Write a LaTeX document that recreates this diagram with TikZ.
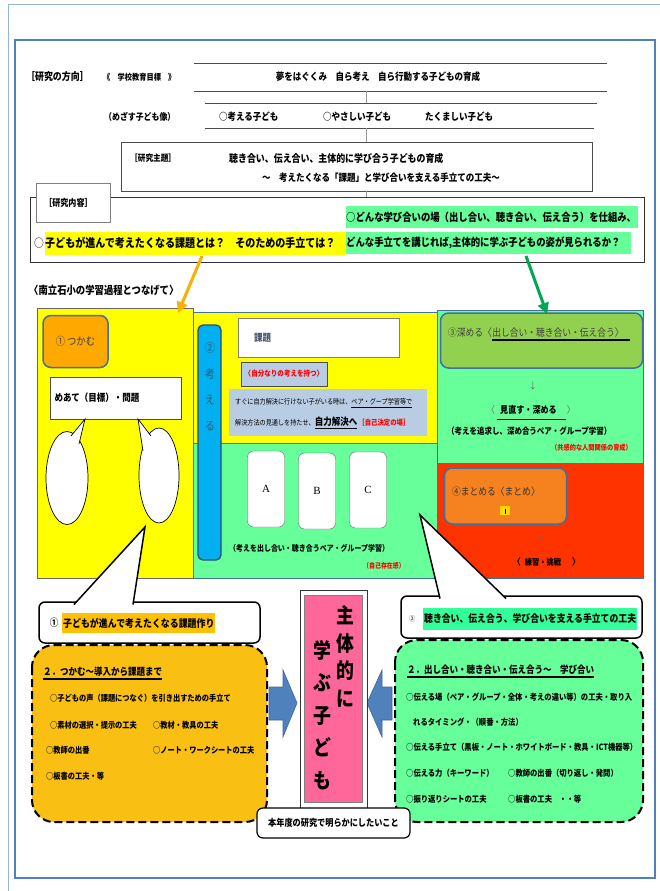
\documentclass[tikz,border=0pt]{standalone}
\usepackage{fontspec}
\setmainfont{Noto Sans CJK JP}[FakeStretch=0.85]
\newfontfamily\abcfont{Liberation Serif}
\usepackage{xcolor}
\usepackage{tikz}
\usetikzlibrary{calc,arrows.meta}

\definecolor{kiiro}{HTML}{FFFF00}
\definecolor{midori}{HTML}{66FF99}
\definecolor{hlmidori}{HTML}{33FF99}
\definecolor{koimidori}{HTML}{92D050}
\definecolor{aka}{HTML}{FF3300}
\definecolor{daidai}{HTML}{FFA800}
\definecolor{hldaidai}{HTML}{FFC000}
\definecolor{matomeiro}{HTML}{F5821F}
\definecolor{mizu}{HTML}{00B0F0}
\definecolor{haiao}{HTML}{B8CCE4}
\definecolor{yamabuki}{HTML}{F9C013}
\definecolor{momo}{HTML}{FF6699}
\definecolor{yajiao}{HTML}{4F81BD}
\definecolor{wakuao}{HTML}{41719C}
\definecolor{kimidori}{HTML}{00A651}
\definecolor{yamabukiya}{HTML}{F9B000}
\definecolor{akamoji}{HTML}{FF0000}
\definecolor{kadaiiro}{HTML}{44546A}

\newcommand{\jsz}[1]{\fontsize{#1}{#1}\selectfont}

\tikzset{
  moji/.style={inner sep=0pt,anchor=west},
  waku/.style={draw=wakuao,line width=1pt},
  maru/.style={draw=wakuao,line width=1.5pt,rounded corners=8pt},
  kakou/.style={draw=black,fill=white,line width=1.5pt,rounded corners=6pt},
  tenwaku/.style={draw=black,line width=2pt,dash pattern=on 8pt off 4pt,rounded corners=22pt},
  yaji/.style={line width=3pt,-{Triangle[width=11pt,length=11pt]}},
  abcbox/.style={draw=black!60,fill=white,rounded corners=6pt,minimum width=37pt,minimum height=76pt,font=\abcfont\jsz{11}},
  aoyaji/.style={fill=yajiao,draw=yajiao!80!black,line width=0.6pt}
}

\begin{document}
\begin{tikzpicture}[x=1pt,y=-1pt]
\useasboundingbox (0,0) rectangle (660,891);
\fill[white] (0,0) rectangle (660,891);

% frames
\draw[line width=1pt,draw=yajiao!60] (8,891) -- (8,5) -- (660,5);
\draw[line width=1.5pt,draw=yajiao] (15,40) rectangle (655,878);

% research direction
\node[moji,font=\bfseries\jsz{10.5}] (houkou) at (26,77) {［研究の方向］};
\node[moji,font=\bfseries\jsz{8.5}] (mokuhyou) at (103,77) {《　学校教育目標　》};
\draw[black!70] (194,63) -- (607,63);
\draw[black!70] (194,91) -- (607,91);
\node[font=\bfseries\jsz{10}] (yume) at (378,77) {夢をはぐくみ　自ら考え　自ら行動する子どもの育成};
\draw[black!40] (366,91) -- (366,103);
\draw[black!70] (205,103) -- (597,103);
\draw[black!70] (205,128) -- (594,128);
\node[moji,font=\bfseries\jsz{9.3}] (mezasu) at (104,117) {（めざす子ども像）};
\node[moji,font=\bfseries\jsz{10}] (ko1) at (219,117) {○考える子ども};
\node[moji,font=\bfseries\jsz{10}] (ko2) at (323,117) {○やさしい子ども};
\node[moji,font=\bfseries\jsz{10}] (ko3) at (425,117) {たくましい子ども};
\draw[black!40] (366,128) -- (366,142);

% research theme
\draw[black!70,line width=0.8pt] (121,142) rectangle (592,191);
\node[moji,font=\bfseries\jsz{9}] (shudai) at (130,158) {［研究主題］};
\node[moji,font=\bfseries\jsz{10.5}] (shudai1) at (229,158) {聴き合い、伝え合い、主体的に学び合う子どもの育成};
\node[moji,font=\bfseries\jsz{10}] (shudai2) at (262,178) {～　考えたくなる「課題」と学び合いを支える手立ての工夫～};
\draw[black!40] (366,191) -- (366,197);

% research content
\draw[black!80,line width=1pt] (30,197) rectangle (644,262);
\draw[draw=black!50,fill=white,line width=1pt] (36,183) rectangle (110,222);
\node[moji,font=\bfseries\jsz{9.5}] (naiyou) at (44,203) {［研究内容］};
\node[moji,font=\jsz{11.5}] (maru1) at (34,243) {○};
\node[anchor=west,fill=kiiro,inner sep=0pt,minimum height=23pt,text width=301pt,align=left,font=\bfseries\jsz{11.8}] (toi1) at (45,243) {子どもが進んで考えたくなる課題とは？　そのための手立ては？};
\node[anchor=west,fill=midori,inner sep=0pt,minimum height=22pt,text width=292pt,align=left,font=\bfseries\jsz{11}] (toi2) at (346,217) {○どんな学び合いの場（出し合い、聴き合い、伝え合う）を仕組み、};
\node[anchor=west,fill=midori,inner sep=0pt,minimum height=22pt,text width=285pt,align=left,font=\bfseries\jsz{11}] (toi3) at (346,243) {どんな手立てを講じれば,主体的に学ぶ子どもの姿が見られるか？};

\node[moji,font=\bfseries\jsz{11}] (tsunage) at (29,290) {〈南立石小の学習過程とつなげて〉};

% process panels
\draw[waku,draw=black!60,fill=kiiro] (37,308) rectangle (193,578);
\draw[waku,fill=kiiro] (193,312) rectangle (437,443);
\draw[waku,fill=midori] (193,443) rectangle (437,578);
\draw[waku,fill=midori] (437,310) rectangle (643,463);
\draw[waku,fill=aka] (437,463) rectangle (643,578);

\coordinate (oS) at (202,256);
\coordinate (oE) at (178,313);
\coordinate (gS) at (526,256);
\coordinate (gE) at (547,314);
\draw[yaji,draw=yamabukiya,fill=yamabukiya] (oS) -- (oE);
\draw[yaji,draw=kimidori,fill=kimidori] (gS) -- (gE);

% (1) tsukamu
\node[maru,fill=daidai,minimum width=65pt,minimum height=52pt,font=\jsz{11},text=black!75] (tsukamu) at (75.5,341.5) {①\,つかむ};
\node[draw=black!70,fill=white,minimum width=131pt,minimum height=42pt,text width=123pt,align=left,font=\bfseries\jsz{10}] (meate) at (116,398) {めあて（目標）・問題};
\draw[fill=white,line width=0.7pt] (67,478) ellipse [x radius=21pt,y radius=46.5pt];
\filldraw[fill=white,line width=0.7pt] (71,436) -- (85,419) -- (79,444);
\draw[fill=white,line width=0.7pt] (159,475.5) ellipse [x radius=20pt,y radius=47.5pt];
\filldraw[fill=white,line width=0.7pt] (151,436) -- (138,419) -- (143,451);

% (2) kangaeru
\draw[rounded corners=5pt,fill=mizu,draw=wakuao!70!black,line width=1.3pt] (198,325) rectangle (221,560);
\node[align=center,font=\fontsize{12}{26}\selectfont,text=kadaiiro] (kangaeru) at (210,387) {②\\考\\え\\る};
\node[draw=black!50,fill=white,minimum width=161pt,minimum height=39pt] (kadai) at (318.5,337.5) {};
\node[moji,font=\bfseries\jsz{10},text=kadaiiro] (kadaimoji) at (254,338) {課題};
\node[draw=black!70,fill=haiao,line width=0.8pt,minimum width=86pt,minimum height=24pt,inner sep=0pt,font=\bfseries\jsz{7.7},text=akamoji] (jibun) at (284,374) {〈自分なりの考えを持つ〉};
\node[fill=haiao,minimum width=198pt,minimum height=47pt] (sugu) at (328,412.5) {};
\node[moji,font=\jsz{7.2}] (sugu1) at (235,403) {すぐに自力解決に行けない子がいる時は、\underline{ペア・グープ学習等で}};
\node[moji,font=\jsz{7.2}] (sugu2) at (235,423) {解決方法の見通しを持たせ、{\bfseries\jsz{10}\underline{自力解決へ}}\,{\bfseries\jsz{7.5}\color{akamoji}［自己決定の場］}};

\node[abcbox] (A) at (266,489) {A};
\node[abcbox] (B) at (317,491) {B};
\node[abcbox] (C) at (368,490) {C};
\node[moji,font=\bfseries\jsz{8.2}] (pea1) at (229,548) {（考えを出し合い・聴き合うペア・グループ学習）};
\node[font=\bfseries\jsz{7},text=akamoji] (sonzai) at (384,566) {（自己存在感）};

% (3) fukameru
\node[maru,fill=koimidori,minimum width=202pt,minimum height=55pt] (fukameru) at (541.5,340.5) {};
\node[moji,font=\jsz{10.3},text=black!75] (fuka1) at (448,333) {③深める〈};
\node[inner sep=0pt,anchor=base west,font=\jsz{10.3},text=black!75] (fuka2) at (fuka1.base east) {出し合い・聴き合い・伝え合う〉};
\draw[line width=1.2pt] ([yshift=-2pt]fuka2.south west) -- ([yshift=-2pt,xshift=6pt]fuka2.south east);
\node[font=\jsz{9},text=black!60] (ya1) at (533,386) {↓};
\node[font=\jsz{9.5},text=black!60] (kak1) at (491,410) {〈};
\node[font=\bfseries\jsz{9.5}] (minaoshi) at (528.5,410) {見直す・深める};
\node[font=\jsz{9.5},text=black!60] (kak2) at (571,410) {〉};
\draw[line width=1.2pt] ([yshift=-1.5pt]minaoshi.south west) -- ([yshift=-1.5pt,xshift=6pt]minaoshi.south east);
\node[moji,font=\bfseries\jsz{8.8}] (pea2) at (447,431) {（考えを追求し、深め合うペア・グループ学習）};
\node[moji,font=\bfseries\jsz{7.3},text=akamoji] (kyoukan) at (551,448) {（共感的な人間関係の育成）};

% (4) matomeru
\node[maru,fill=matomeiro,minimum width=122pt,minimum height=56pt] (matome) at (505.5,496) {};
\node[moji,font=\jsz{10.3},text=black!80] (matome1) at (452,492) {④まとめる〈まとめ〉};
\fill[kiiro!70!orange] (500,506) rectangle (510,515);
\draw[very thin] (505,509) -- (505,514);
\node[font=\jsz{9},text=black!60] (ya2) at (542,537) {↓};
\node[font=\bfseries\jsz{9.5}] (kak3) at (517,562) {〈};
\node[font=\bfseries\jsz{8.5}] (renshu) at (543,562) {練習・挑戦};
\node[font=\bfseries\jsz{9.5}] (kak4) at (576,562) {〉};

% callouts
\node[kakou,minimum width=221pt,minimum height=41pt] (kakou1) at (149.5,622.5) {};
\filldraw[fill=white,line width=1.5pt] (74,604.5) -- (145,527) -- (133,604.5);
\node[font=\bfseries\jsz{10}] (ichi) at (54,623) {①};
\node[anchor=west,fill=hldaidai,inner xsep=1pt,minimum height=20pt,font=\bfseries\jsz{10.5}] (kadaidukuri) at (62,623) {子どもが進んで考えたくなる課題作り};

\node[kakou,minimum width=241pt,minimum height=42pt] (kakou2) at (521.5,617) {};
\filldraw[fill=white,line width=1.5pt] (440,598.5) -- (420,515) -- (506,598.5);
\node[font=\bfseries\jsz{7},text=black!60] (ni) at (412,619) {②};
\node[anchor=west,fill=hlmidori,inner xsep=1pt,minimum height=22pt,font=\bfseries\jsz{10.4}] (tedate) at (423,619) {聴き合い、伝え合う、学び合いを支える手立ての工夫};

% lower left
\draw[tenwaku,fill=yamabuki] (32,645) rectangle (267,822);
\node[moji,font=\bfseries\jsz{10}] (tsukamu2) at (43,672) {２．つかむ～導入から課題まで};
\draw[line width=1.2pt] ([yshift=-2pt]tsukamu2.south west) -- ([yshift=-2pt]tsukamu2.south east);
\node[moji,font=\bfseries\jsz{8.5}] (h1) at (50,698) {○子どもの声（課題につなぐ）を引き出すための手立て};
\node[moji,font=\bfseries\jsz{8.5}] (h2) at (50,725) {○素材の選択・提示の工夫};
\node[moji,font=\bfseries\jsz{8.5}] (h3) at (153,725) {○教材・教具の工夫};
\node[moji,font=\bfseries\jsz{8.5}] (h4) at (46,750) {○教師の出番};
\node[moji,font=\bfseries\jsz{8.5}] (h5) at (153,750) {○ノート・ワークシートの工夫};
\node[moji,font=\bfseries\jsz{8.5}] (h6) at (46,776) {○板書の工夫・等};

% lower right
\draw[tenwaku,fill=midori] (395,640) rectangle (643,822);
\node[moji,font=\bfseries\jsz{10}] (dashiai) at (407,670) {２．出し合い・聴き合い・伝え合う～　学び合い};
\draw[line width=1.2pt] ([yshift=-2pt]dashiai.south west) -- ([yshift=-2pt]dashiai.south east);
\node[moji,font=\bfseries\jsz{8.6}] (m1) at (406,697) {○伝える場（ペア・グループ・全体・考えの違い等）の工夫・取り入};
\node[moji,font=\bfseries\jsz{8.6}] (m2) at (413,722) {れるタイミング・（順番・方法）};
\node[moji,font=\bfseries\jsz{8.6}] (m3) at (406,747) {○伝える手立て（黒板・ノート・ホワイトボード・教具・ICT機器等）};
\node[moji,font=\bfseries\jsz{8.6}] (m4) at (406,773) {○伝える力（キーワード）};
\node[moji,font=\bfseries\jsz{8.6}] (m5) at (508,773) {○教師の出番（切り返し・発問）};
\node[moji,font=\bfseries\jsz{8.6}] (m6) at (406,799) {○振り返りシートの工夫};
\node[moji,font=\bfseries\jsz{8.6}] (m7) at (508,799) {○板書の工夫　・・等};

% centre
\draw[aoyaji] (269,687) -- (283,687) -- (283,670) -- (297,703) -- (283,737) -- (283,720) -- (269,720) -- cycle;
\draw[aoyaji] (392,687) -- (382,687) -- (382,670) -- (367,703) -- (382,737) -- (382,720) -- (392,720) -- cycle;
\draw[fill=white,draw=black!80,line width=1pt] (300,590) rectangle (367,808);
\draw[fill=momo,draw=black!50,line width=0.6pt] (304.5,595.5) rectangle (362.5,802.5);
\node[align=center,font=\bfseries\fontsize{21}{27.7}\selectfont] (shutai) at (345,656.5) {主\\体\\的\\に};
\node[align=center,font=\bfseries\fontsize{21}{32.5}\selectfont] (manabu) at (322,715) {学\\ぶ\\子\\ど\\も};
\node[kakou,line width=1.2pt,minimum width=153pt,minimum height=30pt,font=\bfseries\jsz{9.6}] (honnendo) at (333.5,823) {本年度の研究で明らかにしたいこと};
\end{tikzpicture}
\end{document}
